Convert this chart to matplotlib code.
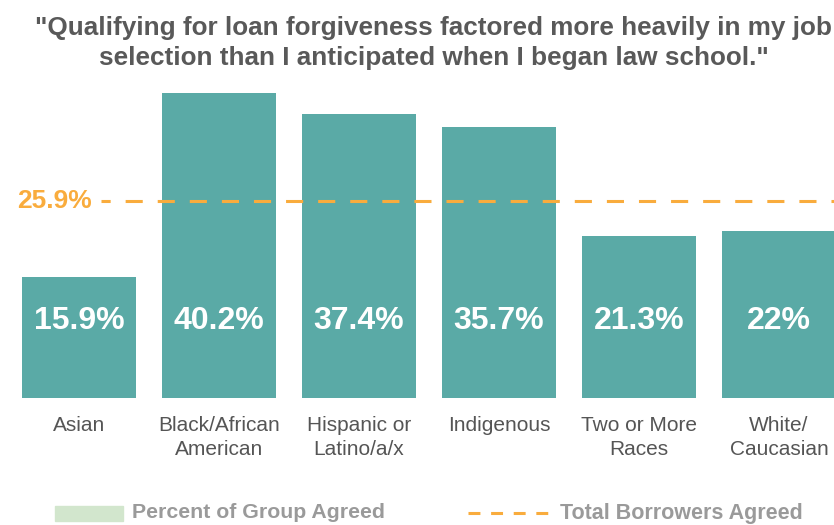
import matplotlib
matplotlib.use("Agg")
import matplotlib.pyplot as plt
from matplotlib.patches import Rectangle
from matplotlib.lines import Line2D

# Share of each group that agreed, plus the overall borrower figure
groups = ["Asian", "Black/African\nAmerican", "Hispanic or\nLatino/a/x",
          "Indigenous", "Two or More\nRaces", "White/\nCaucasian"]
agreed = [15.9, 40.2, 37.4, 35.7, 21.3, 22]
value_labels = ["15.9%", "40.2%", "37.4%", "35.7%", "21.3%", "22%"]
total_agreed = 25.9

teal = "#5aaaa6"
orange = "#f9ac3d"
plt.rcParams["font.family"] = ["Liberation Sans", "DejaVu Sans"]

fig = plt.figure(figsize=(8.34, 5.25), dpi=100)
ax = fig.add_axes([0, 0.2419, 1, 0.5962])

x = list(range(len(groups)))
ax.bar(x, agreed, width=0.814, color=teal)
ax.set_xlim(-0.564, 5.393)
ax.set_ylim(0, 41.25)
ax.axis("off")

for xi, lab in zip(x, value_labels):
    ax.text(xi, 10.1, lab, ha="center", va="center", color="white",
            fontsize=23, fontweight="bold")

# overall line across the chart
ax.plot([0.157, 5.5], [total_agreed, total_agreed], color=orange, lw=2.2,
        linestyle=(2.6, (5.6, 4.9)), clip_on=False)
ax.text(0.093, total_agreed, f"{total_agreed}%", ha="right", va="center",
        color=orange, fontsize=19, fontweight="bold")

for xi, g in zip(x, groups):
    ax.text(xi, -2.4, g, ha="center", va="top", color="#555555",
            fontsize=15, linespacing=1.3)

fig.text(0.52, 0.918, "\"Qualifying for loan forgiveness factored more heavily in my job\n"
         "selection than I anticipated when I began law school.\"",
         ha="center", va="center", fontsize=18.8, fontweight="bold",
         color="#595959", linespacing=1.27)

# legend along the bottom
fig.patches.append(Rectangle((55 / 834, 1 - 521 / 525), 68 / 834, 15 / 525,
                             transform=fig.transFigure, color="#d2e6cd"))
fig.text(132 / 834, 1 - 513 / 525, "Percent of Group Agreed", ha="left",
         va="center", fontsize=15.3, fontweight="bold", color="#9a9a9a")
fig.lines.append(Line2D([468 / 834, 548 / 834], [1 - 513 / 525, 1 - 513 / 525],
                        transform=fig.transFigure, color=orange, lw=2.2,
                        linestyle=(0, (3.9, 3.5))))
fig.text(560 / 834, 1 - 513 / 525, "Total Borrowers Agreed", ha="left",
         va="center", fontsize=15.5, fontweight="bold", color="#9a9a9a")

fig.savefig("out.png", dpi=100)
